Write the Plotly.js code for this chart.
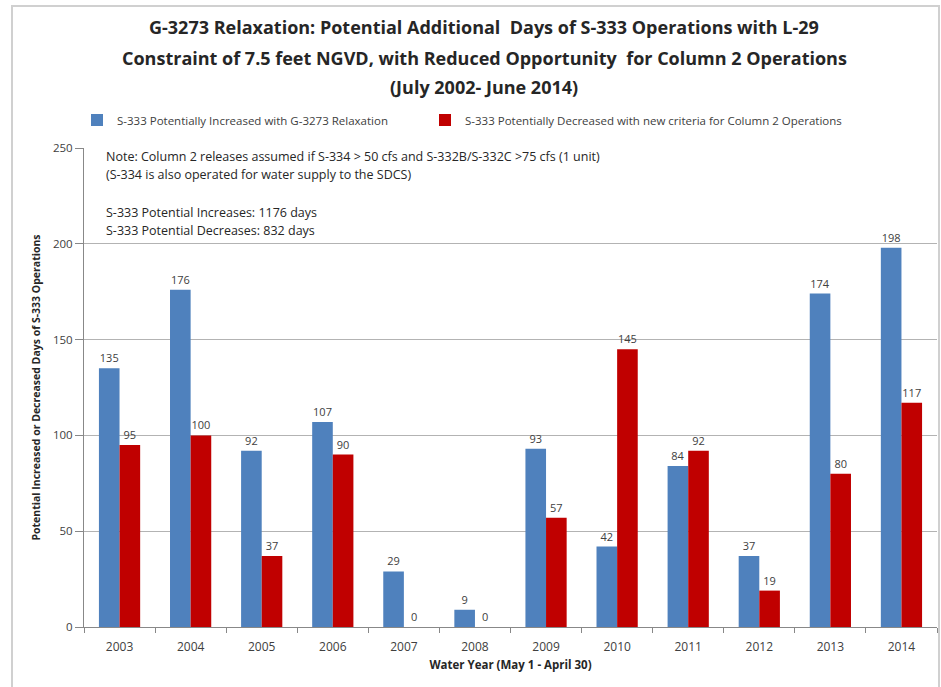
<!DOCTYPE html>
<html>
<head>
<meta charset="utf-8">
<script src="https://cdn.plot.ly/plotly-3.0.1.min.js"></script>
<style>
html,body{margin:0;padding:0;background:#fff;}
#chart{width:941px;height:687px;}
</style>
</head>
<body>
<div id="chart"></div>
<script>
var years = ["2003","2004","2005","2006","2007","2008","2009","2010","2011","2012","2013","2014"];
var increased = [135,176,92,107,29,9,93,42,84,37,174,198];
var decreased = [95,100,37,90,0,0,57,145,92,19,80,117];
var seriesNames = ["S-333 Potentially Increased with G-3273 Relaxation",
                   "S-333 Potentially Decreased with new criteria for Column 2 Operations"];
var titleLines = ["G-3273 Relaxation: Potential Additional  Days of S-333 Operations with L-29",
                  "Constraint of 7.5 feet NGVD, with Reduced Opportunity  for Column 2 Operations",
                  "(July 2002- June 2014)"];
var noteLines = ["Note: Column 2 releases assumed if S-334 > 50 cfs and S-332B/S-332C >75 cfs (1 unit)",
                 "(S-334 is also operated for water supply to the SDCS)",
                 "S-333 Potential Increases: 1176 days",
                 "S-333 Potential Decreases: 832 days"];
var yTitle = "Potential Increased or Decreased Days of S-333 Operations";
var xTitle = "Water Year (May 1 - April 30)";

var FONT = "Open Sans, sans-serif";
var traces = [
  {type:"bar", name:seriesNames[0], x:years, y:increased, text:increased.map(String),
   textposition:"outside", cliponaxis:false, legend:"legend",
   textfont:{family:FONT, size:11, color:"#404040"},
   marker:{color:"#4F81BD"}},
  {type:"bar", name:seriesNames[1], x:years, y:decreased, text:decreased.map(String),
   textposition:"outside", cliponaxis:false, legend:"legend2",
   textfont:{family:FONT, size:11, color:"#404040"},
   marker:{color:"#C00000"}}
];

function py(p){ return (627 - p)/479; }
function px(p){ return (p - 84)/853; }
var anns = [];
var tY = [27,58,87];
titleLines.forEach(function(t,i){
  anns.push({text:"<b>"+t+"</b>", xref:"paper", yref:"paper", x:px(484), y:py(tY[i]),
    xanchor:"center", yanchor:"middle", showarrow:false,
    font:{family:FONT, size:18, color:"#262626"}});
});
var nY = [157,174,212,230];
noteLines.forEach(function(t,i){
  anns.push({text:t, xref:"paper", yref:"paper", x:px(104), y:py(nY[i]),
    xanchor:"left", yanchor:"middle", showarrow:false,
    font:{family:FONT, size:12.5, color:"#262626"}});
});

var legFont = {family:FONT, size:11.5, color:"#404040"};
var layout = {
  width:941, height:687,
  margin:{l:84, r:4, t:148, b:60},
  paper_bgcolor:"#fff", plot_bgcolor:"#fff",
  barmode:"group", bargap:0.42, bargroupgap:0,
  showlegend:true,
  legend:{orientation:"h", x:px(77), y:py(120), xanchor:"left", yanchor:"middle",
    font:legFont, itemwidth:30, bgcolor:"rgba(0,0,0,0)"},
  legend2:{orientation:"h", x:px(425), y:py(120), xanchor:"left", yanchor:"middle",
    font:legFont, itemwidth:30, bgcolor:"rgba(0,0,0,0)"},
  xaxis:{type:"category", tickson:"boundaries", ticks:"outside", ticklen:5, tickcolor:"#888",
    showline:true, linecolor:"#888", linewidth:1, showgrid:false, ticklabelstandoff:9,
    tickfont:{family:FONT, size:12, color:"#404040"},
    title:{text:"<b>"+xTitle+"</b>", font:{family:FONT, size:11.5, color:"#262626"}, standoff:6}},
  yaxis:{range:[0,250], dtick:50, ticks:"outside", ticklen:8, tickcolor:"#888",
    showline:true, linecolor:"#888", linewidth:1,
    showgrid:true, gridcolor:"#b3b3b3", gridwidth:1, zeroline:false,
    tickfont:{family:FONT, size:11.5, color:"#404040"},
    title:{text:"<b>"+yTitle+"</b>", font:{family:FONT, size:10.5, color:"#262626"}, standoff:10}},
  annotations:anns,
  shapes:[{type:"rect", xref:"paper", yref:"paper",
    x0:px(12), x1:px(939), y0:py(720), y1:py(6),
    line:{color:"#d0d0d0", width:2}, fillcolor:"rgba(0,0,0,0)", layer:"below"}]
};
Plotly.newPlot("chart", traces, layout, {displayModeBar:false, staticPlot:true});
</script>
</body>
</html>
